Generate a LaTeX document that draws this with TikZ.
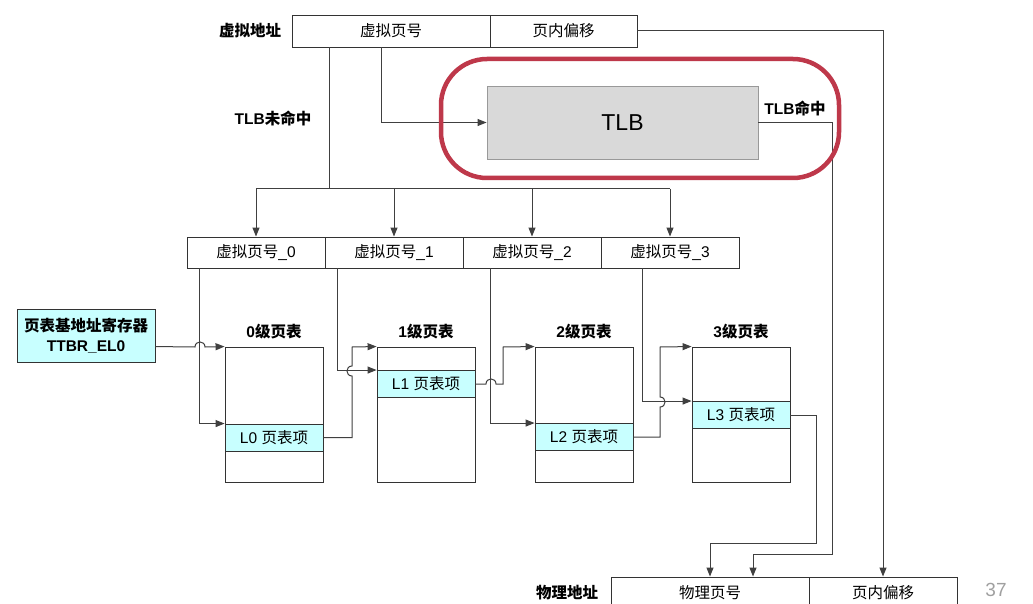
\documentclass[tikz,border=0pt]{standalone}
\usepackage{fontspec}
\setmainfont{Liberation Sans}
\newfontfamily\cjk{Noto Sans CJK SC}
\newcommand{\zh}[1]{{\cjk #1}}
\usetikzlibrary{arrows.meta,calc}
\definecolor{entrycyan}{RGB}{200,255,255}
\definecolor{tlbgray}{RGB}{217,217,217}
\definecolor{tlbred}{RGB}{190,56,74}
\definecolor{pagegray}{RGB}{160,160,160}

\tikzset{
  cell/.style={draw=black!80, line width=0.9pt, minimum height=32pt, inner sep=0pt, font=\fontsize{15.5}{18}\selectfont},
  entry/.style={cell, fill=entrycyan, minimum width=98pt, minimum height=27pt},
  tbl/.style={draw=black!80, line width=0.9pt, minimum width=98pt, minimum height=135pt},
  title/.style={inner sep=0pt, font=\fontsize{15.5}{18}\selectfont\bfseries},
  link/.style={draw=black!75, line width=1pt},
  arr/.style={link, -{Triangle[length=9pt,width=7pt]}},
}

\begin{document}
\begin{tikzpicture}[x=1pt,y=-1pt]
  \useasboundingbox (0,0) rectangle (1033,604);
  \clip (0,0) rectangle (1033,604);
  \fill[white] (0,0) rectangle (1033,604);

  % virtual address
  \node[title] (valabel) at (250,31) {\zh{虚拟地址}};
  \node[cell, minimum width=198pt] (vpn) at (391,31) {\zh{虚拟页号}};
  \node[cell, minimum width=147pt] (voff) at (563.5,31) {\zh{页内偏移}};

  % TLB
  \node[draw=black!40, fill=tlbgray, line width=0.9pt, minimum width=271pt, minimum height=73pt, font=\fontsize{23}{26}\selectfont] (tlb) at (622.5,122.5) {TLB};
  \node[title] (misslabel) at (273,118) {TLB\zh{未命中}};
  \node[title] (hitlabel) at (795,108) {TLB\zh{命中}};

  % level indices
  \foreach \i/\x in {0/256,1/394,2/532,3/670}
    \node[cell, minimum width=138pt, minimum height=31pt] (idx\i) at (\x,252.5) {\zh{虚拟页号}\_\i};

  % base register
  \node[cell, fill=entrycyan, minimum width=138pt, minimum height=53pt, align=center, font=\fontsize{15.5}{20}\selectfont\bfseries] (reg) at (86,335.5) {\zh{页表基地址寄存器}\\TTBR\_EL0};

  % page tables
  \foreach \i/\x/\ey in {0/274/437.5,1/426/384,2/584/437,3/741/415} {
    \node[tbl] (t\i) at (\x,414.5) {};
    \node[title] (tl\i) at (\x,332) {\i\zh{级页表}};
    \node[entry] (l\i) at (\x,\ey) {L\i\ \zh{页表项}};
  }

  % physical address
  \node[title] (palabel) at (567,593) {\zh{物理地址}};
  \node[cell, minimum width=198pt] (ppn) at (710,593) {\zh{物理页号}};
  \node[cell, minimum width=148pt] (poff) at (883,593) {\zh{页内偏移}};
  \node[text=pagegray, font=\fontsize{19}{22}\selectfont] (pagenum) at (996,590) {37};

  % TLB miss
  \coordinate (miss) at (329,189);
  \draw[link] (vpn.south -| miss) -- (miss);
  \draw[link] (idx0.north |- miss) -- (idx3.north |- miss);
  \foreach \i in {0,...,3}
    \draw[arr] (idx\i.north |- miss) -- (idx\i.north);

  % lookup and hit
  \draw[arr] ($(vpn.south)+(-10,0)$) |- (tlb.west);
  \draw[arr] (voff.east) -| (poff.north);
  \draw[arr] (tlb.east) -| (832,554) -| ($(ppn.north)+(43,0)$);
  \draw[arr] (l3.east) -| (816,543) -| (ppn.north);

  % table walk
  \draw[arr] (reg.east |- t0.north) -- (195,347) .. controls (195,340.3) and (205,340.3) .. (205,347) -- (t0.north west);
  \draw[arr] ($(idx0.south west)+(13,0)$) |- (l0.north west);
  \draw[arr] (l0.east) -| (352,376) .. controls (345.3,376) and (345.3,366) .. (352,366) -- (352,347) -- (t1.north west);
  \draw[arr] ($(idx1.south west)+(13,0)$) |- (l1.north west);
  \draw[arr] (l1.east) -- (486,384) .. controls (486,377.3) and (496,377.3) .. (496,384) -| (503,347) -- (t2.north west);
  \draw[arr] ($(idx2.south west)+(28,0)$) |- (l2.north west);
  \draw[arr] (l2.east) -| (660,407) .. controls (666.7,407) and (666.7,397) .. (660,397) -- (660,347) -- (t3.north west);
  \draw[arr] ($(idx3.south west)+(42,0)$) |- (l3.north west);

  % highlight
  \draw[tlbred, line width=4.5pt, rounded corners=46pt] (441,59) rectangle (839,178);
\end{tikzpicture}
\end{document}
